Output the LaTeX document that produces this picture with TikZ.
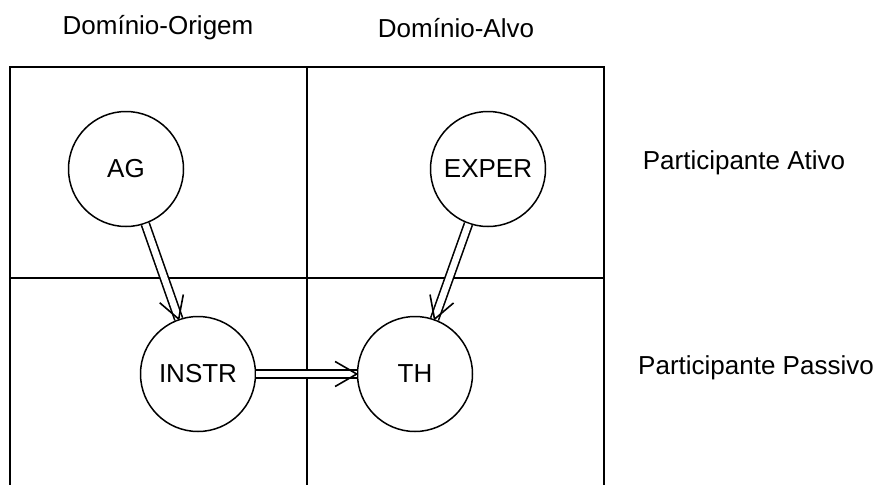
\documentclass[tikz,border=0pt]{standalone}
\usepackage{fontspec}
\setmainfont{Liberation Sans}
\usetikzlibrary{calc}
\begin{document}
\begin{tikzpicture}[x=1pt,y=-1pt,
  grid/.style={line width=1.5pt},
  role/.style={circle,draw,line width=1.5pt,minimum size=115pt,inner sep=0pt,
    font=\fontsize{26}{30}\selectfont},
  lbl/.style={font=\fontsize{26}{30}\selectfont,inner sep=0pt},
  dbl/.style={line width=1.6pt,double,double distance=6.5pt},
  barb/.style={line width=1.6pt,line join=miter}]
\useasboundingbox (0,0) rectangle (879,485);

% column and row grid (open at the bottom)
\draw[grid] (10,485) -- (10,67) -- (604,67) -- (604,485);
\draw[grid] (307,67) -- (307,485);
\draw[grid] (10,278) -- (604,278);

% headings
\node[lbl] (hsrc) at (158,28) {Domínio-Origem};
\node[lbl] (htgt) at (456,28) {Domínio-Alvo};
\node[lbl] (hact) at (744,163) {Participante Ativo};
\node[lbl] (hpas) at (756,368) {Participante Passivo};

% semantic roles
\node[role] (ag)    at (126,169) {AG};
\node[role] (exper) at (488,169) {EXPER};
\node[role] (instr) at (198,374) {INSTR};
\node[role] (th)    at (415,374) {TH};

% double-shafted arrows with open heads
\foreach \a/\b in {ag/instr, exper/th, instr/th} {
  \path (\a) -- (\b) coordinate[pos=0] (s-\a-\b) coordinate[pos=1] (t-\a-\b);
  \draw[dbl] (\a) -- (\b);
  \draw[barb] ($(t-\a-\b)!25pt!30:(s-\a-\b)$) -- (t-\a-\b)
              -- ($(t-\a-\b)!25pt!-30:(s-\a-\b)$);
}
\end{tikzpicture}
\end{document}
